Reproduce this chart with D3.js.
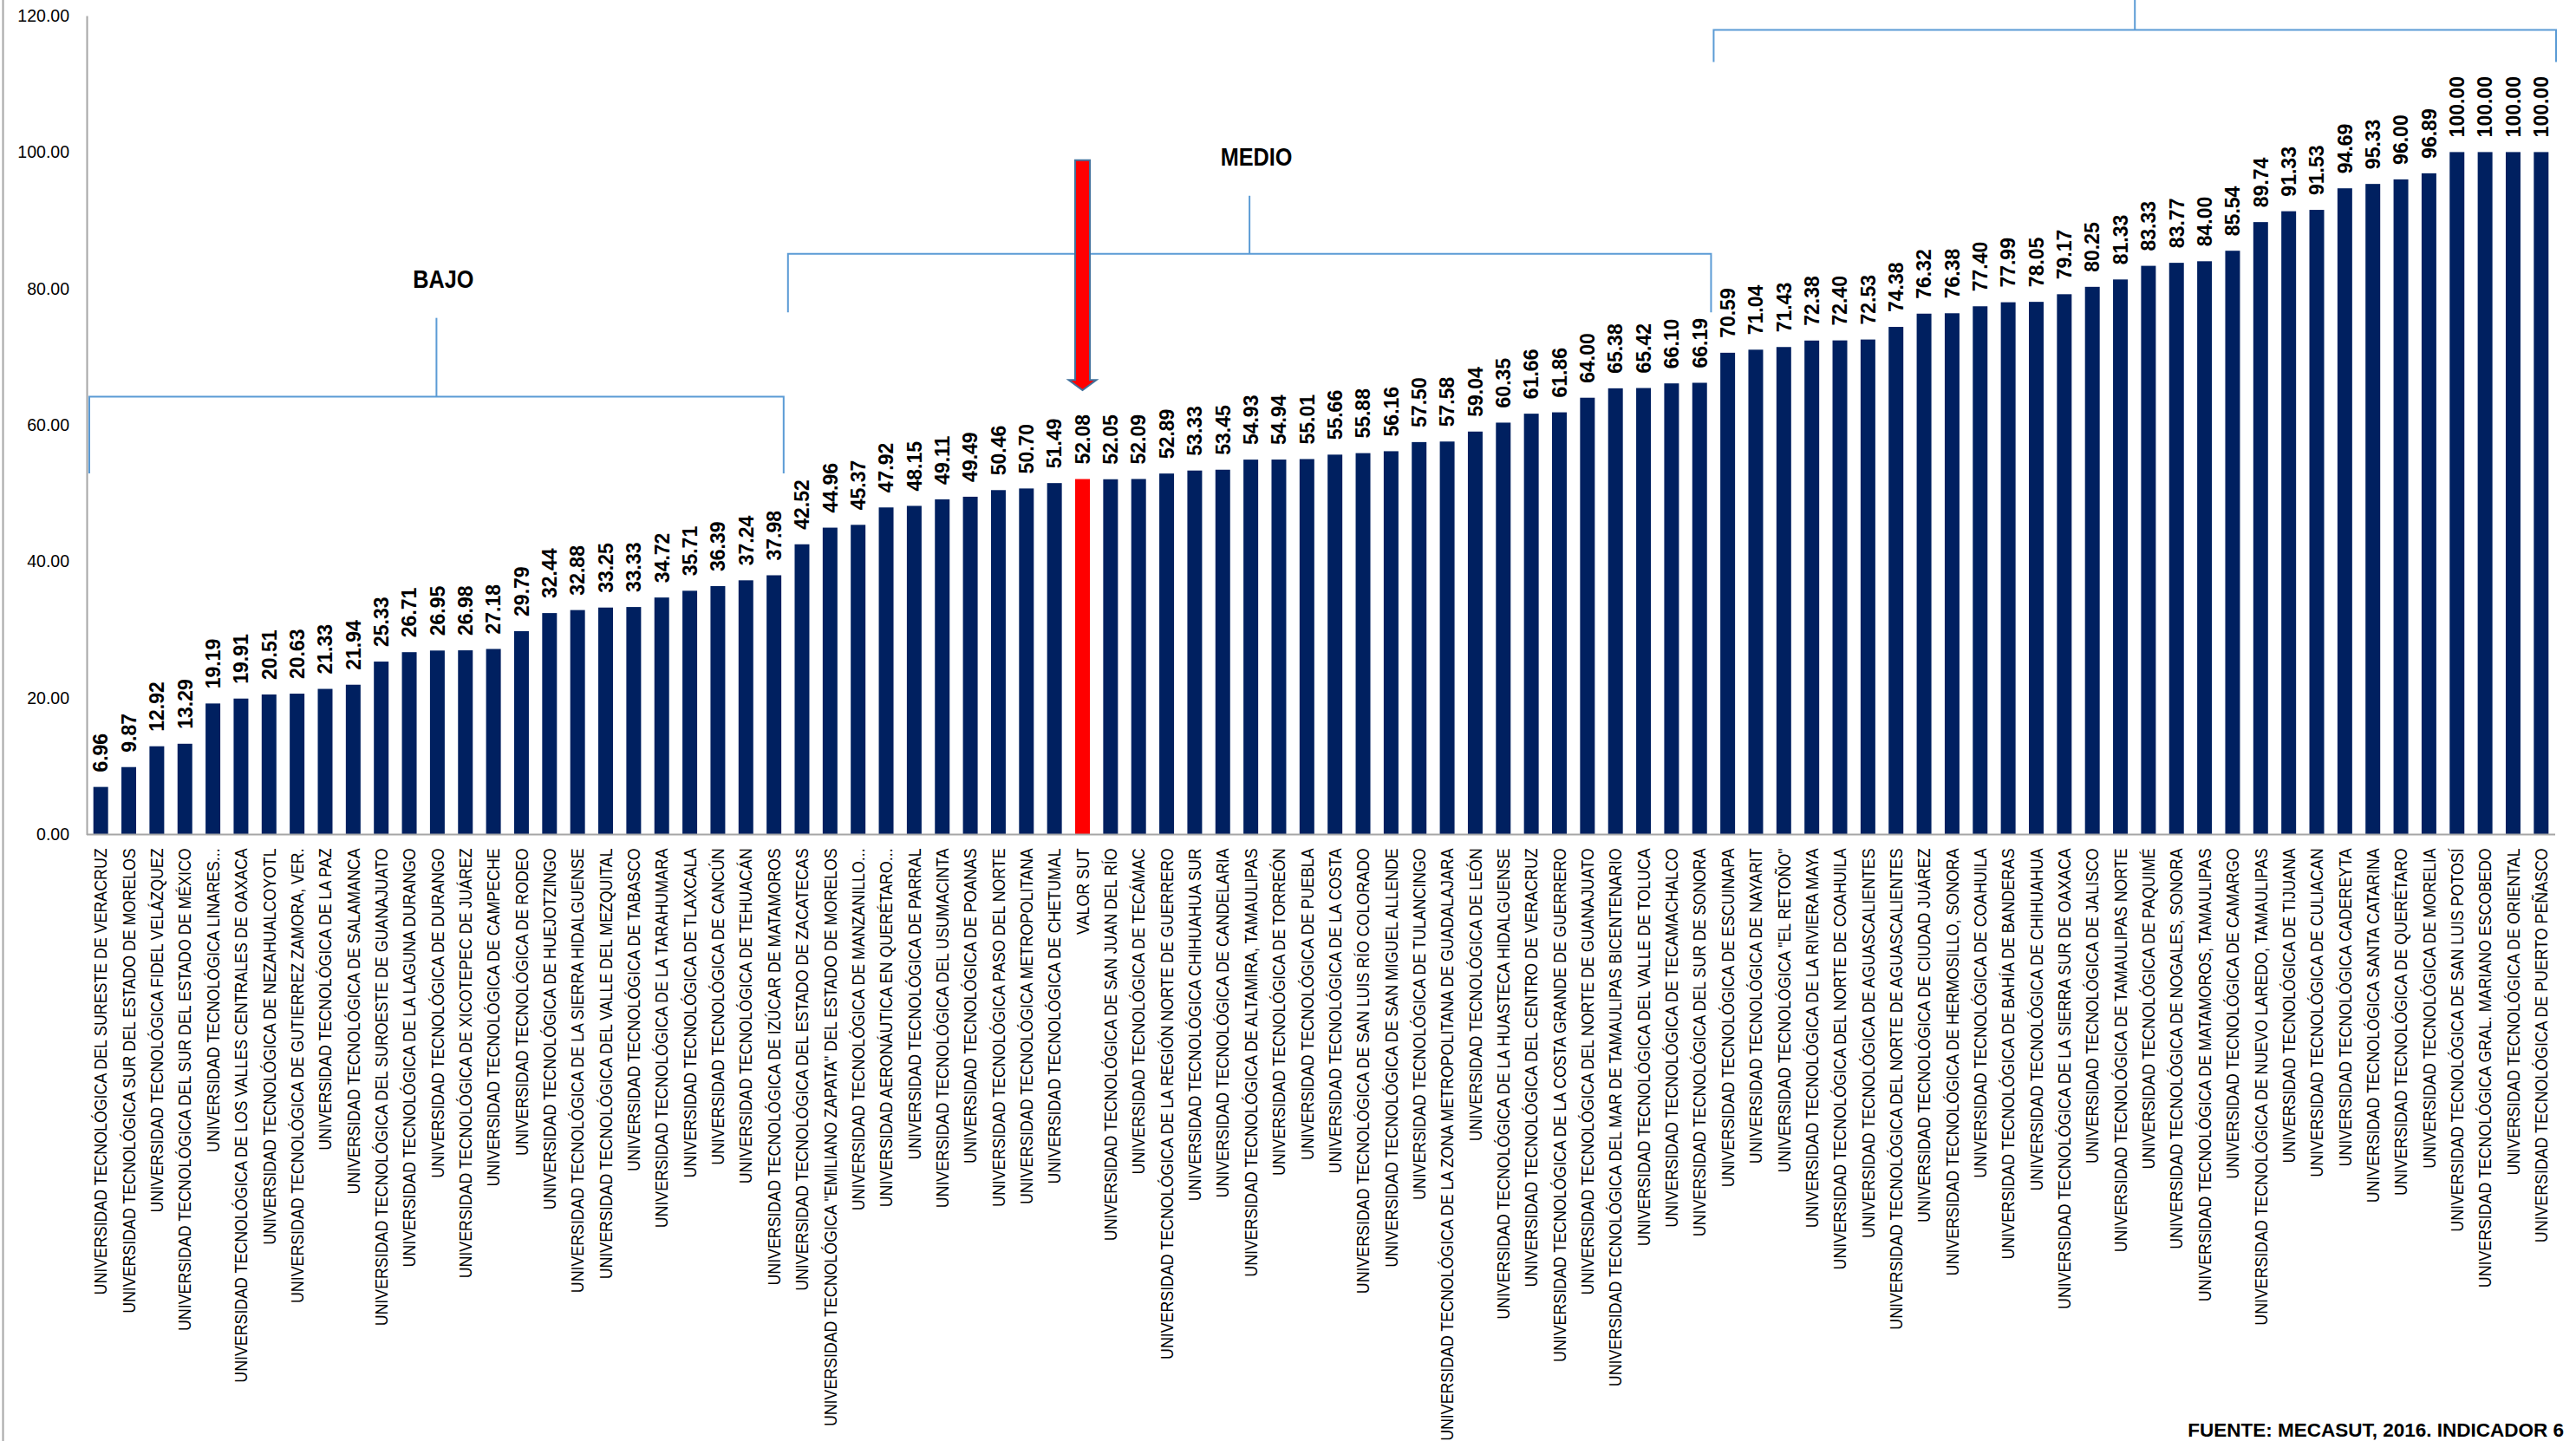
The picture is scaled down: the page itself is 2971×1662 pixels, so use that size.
<!DOCTYPE html>
<html><head><meta charset="utf-8">
<script src="https://cdn.jsdelivr.net/npm/d3@7"></script>
<style>html,body{margin:0;padding:0;background:#fff;} svg{display:block}</style>
</head><body><svg id="c" width="2971" height="1662"></svg>
<script>
const categories = [
"UNIVERSIDAD TECNOLÓGICA DEL SURESTE DE VERACRUZ",
"UNIVERSIDAD TECNOLÓGICA SUR DEL ESTADO DE MORELOS",
"UNIVERSIDAD TECNOLÓGICA FIDEL VELÁZQUEZ",
"UNIVERSIDAD TECNOLÓGICA DEL SUR DEL ESTADO DE MÉXICO",
"UNIVERSIDAD TECNOLÓGICA LINARES...",
"UNIVERSIDAD TECNOLÓGICA DE LOS VALLES CENTRALES DE OAXACA",
"UNIVERSIDAD TECNOLÓGICA DE NEZAHUALCOYOTL",
"UNIVERSIDAD TECNOLÓGICA DE GUTIERREZ ZAMORA, VER.",
"UNIVERSIDAD TECNOLÓGICA DE LA PAZ",
"UNIVERSIDAD TECNOLÓGICA DE SALAMANCA",
"UNIVERSIDAD TECNOLÓGICA DEL SUROESTE DE GUANAJUATO",
"UNIVERSIDAD TECNOLÓGICA DE LA LAGUNA DURANGO",
"UNIVERSIDAD TECNOLÓGICA DE DURANGO",
"UNIVERSIDAD TECNOLÓGICA DE XICOTEPEC DE JUÁREZ",
"UNIVERSIDAD TECNOLÓGICA DE CAMPECHE",
"UNIVERSIDAD TECNOLÓGICA DE RODEO",
"UNIVERSIDAD TECNOLÓGICA DE HUEJOTZINGO",
"UNIVERSIDAD TECNOLÓGICA DE LA SIERRA HIDALGUENSE",
"UNIVERSIDAD TECNOLÓGICA DEL VALLE DEL MEZQUITAL",
"UNIVERSIDAD TECNOLÓGICA DE TABASCO",
"UNIVERSIDAD TECNOLÓGICA DE LA TARAHUMARA",
"UNIVERSIDAD TECNOLÓGICA DE TLAXCALA",
"UNIVERSIDAD TECNOLÓGICA DE CANCÚN",
"UNIVERSIDAD TECNOLÓGICA DE TEHUACÁN",
"UNIVERSIDAD TECNOLÓGICA DE IZÚCAR DE MATAMOROS",
"UNIVERSIDAD TECNOLÓGICA DEL ESTADO DE ZACATECAS",
"UNIVERSIDAD TECNOLÓGICA \"EMILIANO ZAPATA\" DEL ESTADO DE MORELOS",
"UNIVERSIDAD TECNOLÓGICA DE MANZANILLO...",
"UNIVERSIDAD AERONÁUTICA EN QUERÉTARO...",
"UNIVERSIDAD TECNOLÓGICA DE PARRAL",
"UNIVERSIDAD TECNOLÓGICA DEL USUMACINTA",
"UNIVERSIDAD TECNOLÓGICA DE POANAS",
"UNIVERSIDAD TECNOLÓGICA PASO DEL NORTE",
"UNIVERSIDAD TECNOLÓGICA METROPOLITANA",
"UNIVERSIDAD TECNOLÓGICA DE CHETUMAL",
"VALOR SUT",
"UNIVERSIDAD TECNOLÓGICA DE SAN JUAN DEL RÍO",
"UNIVERSIDAD TECNOLÓGICA DE TECÁMAC",
"UNIVERSIDAD TECNOLÓGICA DE LA REGIÓN NORTE DE GUERRERO",
"UNIVERSIDAD TECNOLÓGICA CHIHUAHUA SUR",
"UNIVERSIDAD TECNOLÓGICA DE CANDELARIA",
"UNIVERSIDAD TECNOLÓGICA DE ALTAMIRA, TAMAULIPAS",
"UNIVERSIDAD TECNOLÓGICA DE TORREÓN",
"UNIVERSIDAD TECNOLÓGICA DE PUEBLA",
"UNIVERSIDAD TECNOLÓGICA DE LA COSTA",
"UNIVERSIDAD TECNOLÓGICA DE SAN LUIS RÍO COLORADO",
"UNIVERSIDAD TECNOLÓGICA DE SAN MIGUEL ALLENDE",
"UNIVERSIDAD TECNOLÓGICA DE TULANCINGO",
"UNIVERSIDAD TECNOLÓGICA DE LA ZONA METROPOLITANA DE GUADALAJARA",
"UNIVERSIDAD TECNOLÓGICA DE LEÓN",
"UNIVERSIDAD TECNOLÓGICA DE LA HUASTECA HIDALGUENSE",
"UNIVERSIDAD TECNOLÓGICA DEL CENTRO DE VERACRUZ",
"UNIVERSIDAD TECNOLÓGICA DE LA COSTA GRANDE DE GUERRERO",
"UNIVERSIDAD TECNOLÓGICA DEL NORTE DE GUANAJUATO",
"UNIVERSIDAD TECNOLÓGICA DEL MAR DE TAMAULIPAS BICENTENARIO",
"UNIVERSIDAD TECNOLÓGICA DEL VALLE DE TOLUCA",
"UNIVERSIDAD TECNOLÓGICA DE TECAMACHALCO",
"UNIVERSIDAD TECNOLÓGICA DEL SUR DE SONORA",
"UNIVERSIDAD TECNOLÓGICA DE ESCUINAPA",
"UNIVERSIDAD TECNOLÓGICA DE NAYARIT",
"UNIVERSIDAD TECNOLÓGICA \"EL RETOÑO\"",
"UNIVERSIDAD TECNOLÓGICA DE LA RIVIERA MAYA",
"UNIVERSIDAD TECNOLÓGICA DEL NORTE DE COAHUILA",
"UNIVERSIDAD TECNOLÓGICA DE AGUASCALIENTES",
"UNIVERSIDAD TECNOLÓGICA DEL NORTE DE AGUASCALIENTES",
"UNIVERSIDAD TECNOLÓGICA DE CIUDAD JUÁREZ",
"UNIVERSIDAD TECNOLÓGICA DE HERMOSILLO, SONORA",
"UNIVERSIDAD TECNOLÓGICA DE COAHUILA",
"UNIVERSIDAD TECNOLÓGICA DE BAHÍA DE BANDERAS",
"UNIVERSIDAD TECNOLÓGICA DE CHIHUAHUA",
"UNIVERSIDAD TECNOLÓGICA DE LA SIERRA SUR DE OAXACA",
"UNIVERSIDAD TECNOLÓGICA DE JALISCO",
"UNIVERSIDAD TECNOLÓGICA DE TAMAULIPAS NORTE",
"UNIVERSIDAD TECNOLÓGICA DE PAQUIMÉ",
"UNIVERSIDAD TECNOLÓGICA DE NOGALES, SONORA",
"UNIVERSIDAD TECNOLÓGICA DE MATAMOROS, TAMAULIPAS",
"UNIVERSIDAD TECNOLÓGICA DE CAMARGO",
"UNIVERSIDAD TECNOLÓGICA DE NUEVO LAREDO, TAMAULIPAS",
"UNIVERSIDAD TECNOLÓGICA DE TIJUANA",
"UNIVERSIDAD TECNOLÓGICA DE CULIACAN",
"UNIVERSIDAD TECNOLÓGICA CADEREYTA",
"UNIVERSIDAD TECNOLÓGICA SANTA CATARINA",
"UNIVERSIDAD TECNOLÓGICA DE QUERÉTARO",
"UNIVERSIDAD TECNOLÓGICA DE MORELIA",
"UNIVERSIDAD TECNOLÓGICA DE SAN LUIS POTOSÍ",
"UNIVERSIDAD TECNOLÓGICA GRAL. MARIANO ESCOBEDO",
"UNIVERSIDAD TECNOLÓGICA DE ORIENTAL",
"UNIVERSIDAD TECNOLÓGICA DE PUERTO PEÑASCO"
];
const values = [
6.96, 9.87, 12.92, 13.29, 19.19, 19.91, 20.51, 20.63, 21.33, 21.94,
25.33, 26.71, 26.95, 26.98, 27.18, 29.79, 32.44, 32.88, 33.25, 33.33,
34.72, 35.71, 36.39, 37.24, 37.98, 42.52, 44.96, 45.37, 47.92, 48.15,
49.11, 49.49, 50.46, 50.70, 51.49, 52.08, 52.05, 52.09, 52.89, 53.33,
53.45, 54.93, 54.94, 55.01, 55.66, 55.88, 56.16, 57.50, 57.58, 59.04,
60.35, 61.66, 61.86, 64.00, 65.38, 65.42, 66.10, 66.19, 70.59, 71.04,
71.43, 72.38, 72.40, 72.53, 74.38, 76.32, 76.38, 77.40, 77.99, 78.05,
79.17, 80.25, 81.33, 83.33, 83.77, 84.00, 85.54, 89.74, 91.33, 91.53,
94.69, 95.33, 96.00, 96.89, 100.00, 100.00, 100.00, 100.00
];
const highlightCategory = "VALOR SUT";
const yTicks = [0, 20, 40, 60, 80, 100, 120];

// level brackets (first/last category, levels in data units)
const groupNames = ["BAJO", "MEDIO", "ALTO"];
const groupFirst = [categories[0], categories[25], categories[58]];
const groupLast = [categories[24], categories[57], categories[87]];
const groupLineValue = [64.15, 85.1, 117.9];
const groupDropValue = [52.9, 76.5, 113.2];
const groupTickValue = [75.7, 93.6, 123];
const groupTextValue = [80.1, 98.06, null];

const arrowTopValue = 98.8;
const arrowHeadValue = 66.6;
const arrowTipValue = 65.1;
const sourceText = "FUENTE: MECASUT, 2016. INDICADOR 6";

const svg = d3.select("#c");
const FONT = "'Liberation Sans', Arial, sans-serif";

const x = d3.scaleBand().domain(categories).range([100, 2947]).paddingInner(0.475).paddingOuter(0.2375);
const y = d3.scaleLinear().domain([0, 120]).range([962.4, 18]);
const step = x.step();
const cx = c => x(c) + x.bandwidth() / 2;

// outer frame line on the left
svg.append("line").attr("x1", 3.5).attr("x2", 3.5).attr("y1", 0).attr("y2", 1662)
  .attr("stroke", "#a6a6a6").attr("stroke-width", 2);

// bars
svg.append("g").selectAll("rect").data(categories).join("rect")
  .attr("x", d => x(d))
  .attr("y", (d, i) => y(values[i]))
  .attr("width", x.bandwidth())
  .attr("height", (d, i) => y(0) - y(values[i]))
  .attr("fill", d => d === highlightCategory ? "#ff0000" : "#002060");

// y axis
const yAxis = svg.append("g").attr("transform", "translate(100,0)")
  .call(d3.axisLeft(y).tickValues(yTicks).tickFormat(d3.format(".2f")).tickSize(0).tickPadding(20));
yAxis.select(".domain").attr("stroke", "#a6a6a6").attr("stroke-width", 2);
yAxis.selectAll("text").attr("font-family", FONT).attr("font-size", 19.5).attr("fill", "#000");

// x axis
const xAxis = svg.append("g").attr("transform", `translate(0,${y(0)})`)
  .call(d3.axisBottom(x).tickSize(0).tickSizeOuter(0));
xAxis.select(".domain").attr("stroke", "#a6a6a6").attr("stroke-width", 2)
  .attr("d", `M${x.range()[0]},0H${x.range()[1]}`);
xAxis.selectAll("text")
  .attr("y", null).attr("x", null).attr("dy", "0.36em")
  .attr("transform", "translate(0,16) rotate(-90) scale(0.89,1)")
  .attr("text-anchor", "end")
  .attr("font-family", FONT).attr("font-size", 20).attr("fill", "#000");

// value labels
svg.append("g").selectAll("text").data(categories).join("text")
  .attr("transform", (d, i) => `translate(${cx(d)},${y(values[i]) - 17}) rotate(-90)`)
  .attr("dy", "0.36em")
  .attr("text-anchor", "start")
  .attr("font-family", FONT).attr("font-weight", "bold").attr("font-size", 23).attr("fill", "#000")
  .text((d, i) => values[i].toFixed(2));

// brackets
const bracketColor = "#5b9bd5";
const bg = svg.append("g").attr("fill", "none").attr("stroke", bracketColor).attr("stroke-width", 2);
const leftTweak = [3, 0, 0], rightTweak = [-5, -3, 1];
groupNames.forEach((name, i) => {
  const x0 = cx(groupFirst[i]) - step / 2 + leftTweak[i];
  const x1 = cx(groupLast[i]) + step / 2 + rightTweak[i];
  const yl = y(groupLineValue[i]), yd = y(groupDropValue[i]);
  const xm = (x0 + x1) / 2;
  bg.append("path").attr("d", `M${x0},${yd}V${yl}H${x1}V${yd}`);
  bg.append("path").attr("d", `M${xm},${yl}V${Math.max(0, y(groupTickValue[i]))}`);
  if (groupTextValue[i] !== null) {
    svg.append("text")
      .attr("transform", `translate(${xm + 8},${y(groupTextValue[i])}) scale(0.87,1)`)
      .attr("text-anchor", "middle")
      .attr("font-family", FONT).attr("font-weight", "bold").attr("font-size", 29).attr("fill", "#000")
      .text(name);
  }
});

// red arrow pointing to VALOR SUT
const ax = cx(highlightCategory);
const sw = x.bandwidth() / 2, hw = 16;
const yt = y(arrowTopValue), yh = y(arrowHeadValue), yp = y(arrowTipValue);
svg.append("path")
  .attr("d", `M${ax - sw},${yt}H${ax + sw}V${yh}H${ax + hw}L${ax},${yp}L${ax - hw},${yh}H${ax - sw}Z`)
  .attr("fill", "#ff0000").attr("stroke", "#41719c").attr("stroke-width", 2).attr("stroke-linejoin", "miter");

// source
svg.append("text").attr("x", 2957).attr("y", 1657).attr("text-anchor", "end")
  .attr("font-family", FONT).attr("font-weight", "bold").attr("font-size", 22.5).attr("fill", "#000")
  .text(sourceText);
</script></body></html>
